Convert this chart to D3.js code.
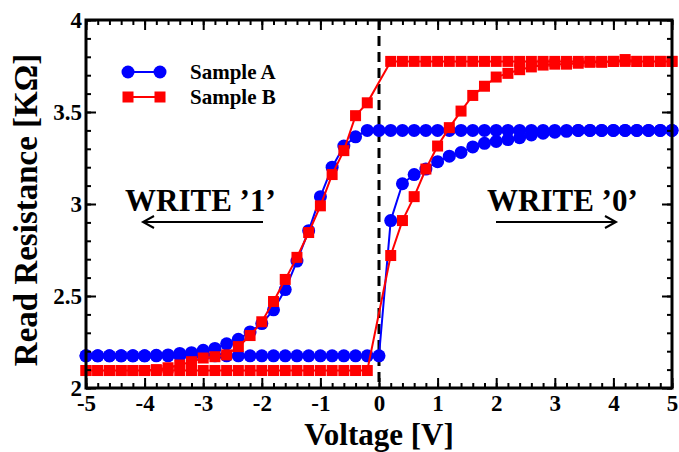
<!DOCTYPE html>
<html>
<head>
<meta charset="utf-8">
<script src="https://cdn.jsdelivr.net/npm/d3@7"></script>
<style>
    body { margin: 0; background: #fff; }
    svg { display: block; }
    text { font-family: "Liberation Serif", "Times New Roman", serif; font-weight: bold; }
</style>
</head>
<body>
<svg id="chart" width="679" height="452"></svg>
<script>
// sweep voltages (V), shared by both samples
const volts = [-5, -4.8, -4.6, -4.4, -4.2, -4, -3.8, -3.6, -3.4, -3.2, -3, -2.8, -2.6, -2.4, -2.2,
    -2, -1.8, -1.6, -1.4, -1.2, -1, -0.8, -0.6, -0.4, -0.2, 0, 0.2, 0.4, 0.6, 0.8, 1, 1.2, 1.4,
    1.6, 1.8, 2, 2.2, 2.4, 2.6, 2.8, 3, 3.2, 3.4, 3.6, 3.8, 4, 4.2, 4.4, 4.6, 4.8, 5];

// Sample A: forward sweep (-5 -> 5) and reverse sweep (5 -> -5), listed by ascending voltage
const sampleAForward = [2.175, 2.175, 2.175, 2.175, 2.175, 2.175, 2.175, 2.175, 2.175, 2.175,
    2.175, 2.175, 2.175, 2.175, 2.175, 2.175, 2.175, 2.175, 2.175, 2.175, 2.175, 2.175, 2.175,
    2.175, 2.175, 2.175, 2.91, 3.11, 3.16, 3.19, 3.23, 3.26, 3.28, 3.31, 3.33, 3.34, 3.35, 3.36,
    3.375, 3.385, 3.39, 3.395, 3.40, 3.40, 3.40, 3.40, 3.40, 3.40, 3.40, 3.40, 3.40];
const sampleAReverse = [2.175, 2.175, 2.175, 2.175, 2.175, 2.175, 2.178, 2.18, 2.188, 2.192,
    2.205, 2.215, 2.24, 2.265, 2.305, 2.35, 2.425, 2.535, 2.69, 2.855, 3.04, 3.20, 3.315, 3.365,
    3.40, 3.40, 3.40, 3.40, 3.40, 3.40, 3.40, 3.40, 3.40, 3.40, 3.40, 3.40, 3.40, 3.40, 3.40,
    3.40, 3.40, 3.40, 3.40, 3.40, 3.40, 3.40, 3.40, 3.40, 3.40, 3.40, 3.40];

// Sample B has no reading at 0 V
const sampleBForward = [2.095, 2.095, 2.095, 2.095, 2.095, 2.095, 2.095, 2.095, 2.095, 2.095,
    2.095, 2.095, 2.095, 2.095, 2.095, 2.095, 2.095, 2.095, 2.095, 2.095, 2.095, 2.095, 2.095,
    2.095, 2.095, null, 2.72, 2.91, 3.04, 3.19, 3.315, 3.415, 3.505, 3.59, 3.64, 3.69, 3.71,
    3.73, 3.745, 3.755, 3.76, 3.76, 3.765, 3.77, 3.77, 3.775, 3.785, 3.775, 3.775, 3.775, 3.775];
const sampleBReverse = [2.095, 2.095, 2.095, 2.095, 2.095, 2.095, 2.10, 2.11, 2.125, 2.143,
    2.163, 2.17, 2.18, 2.225, 2.285, 2.36, 2.47, 2.59, 2.71, 2.845, 2.99, 3.16, 3.29, 3.48, 3.55,
    null, 3.775, 3.775, 3.775, 3.775, 3.775, 3.775, 3.775, 3.775, 3.775, 3.775, 3.775, 3.775,
    3.775, 3.775, 3.775, 3.775, 3.775, 3.775, 3.775, 3.775, 3.775, 3.775, 3.775, 3.775, 3.775];

const xTicks = [-5, -4, -3, -2, -1, 0, 1, 2, 3, 4, 5];
const xTickLabels = ["-5", "-4", "-3", "-2", "-1", "0", "1", "2", "3", "4", "5"];
const yTicks = [2, 2.5, 3, 3.5, 4];
const yTickLabels = ["2", "2.5", "3", "3.5", "4"];

const margin = {top: 20, right: 7, bottom: 64, left: 86};
const width = 679, height = 452;

const svg = d3.select("#chart");

const x = d3.scaleLinear().domain([-5, 5]).range([margin.left, width - margin.right]);
const y = d3.scaleLinear().domain([2, 4]).range([height - margin.bottom, margin.top]);

const x0 = x.range()[0], x1 = x.range()[1];
const y0 = y.range()[0], y1 = y.range()[1];

// one loop per sample: forward sweep going up, then reverse sweep coming back down
function loop(forward, reverse) {
    const up = volts.map((v, i) => [v, forward[i]]);
    const down = volts.map((v, i) => [v, reverse[i]]).reverse();
    return up.concat(down).filter((d) => d[1] !== null);
}

const line = d3.line().x((d) => x(d[0])).y((d) => y(d[1]));

// zero volt marker
svg.append("line")
    .attr("x1", x(0)).attr("x2", x(0))
    .attr("y1", y1).attr("y2", y0)
    .attr("stroke", "#000")
    .attr("stroke-width", 3)
    .attr("stroke-dasharray", "10,6");

const seriesA = loop(sampleAForward, sampleAReverse);
const seriesB = loop(sampleBForward, sampleBReverse);

svg.append("path")
    .attr("d", line(seriesA))
    .attr("fill", "none")
    .attr("stroke", "#0000ff")
    .attr("stroke-width", 2);

svg.append("g").selectAll("circle")
    .data(seriesA)
    .join("circle")
    .attr("cx", (d) => x(d[0]))
    .attr("cy", (d) => y(d[1]))
    .attr("r", 6.5)
    .attr("fill", "#0000ff");

svg.append("path")
    .attr("d", line(seriesB))
    .attr("fill", "none")
    .attr("stroke", "#ff0000")
    .attr("stroke-width", 2);

const sq = 11;
svg.append("g").selectAll("rect")
    .data(seriesB)
    .join("rect")
    .attr("x", (d) => x(d[0]) - sq / 2)
    .attr("y", (d) => y(d[1]) - sq / 2)
    .attr("width", sq)
    .attr("height", sq)
    .attr("fill", "#ff0000");

// axes, ticks pointing inward on all four sides
function styleAxis(g) {
    g.selectAll("path.domain").remove();
    g.selectAll(".tick line").attr("stroke", "#000").attr("stroke-width", 2);
    g.selectAll(".tick text")
        .attr("fill", "#000")
        .style("font-size", "23px")
        .style("font-family", "'Liberation Serif', serif")
        .style("font-weight", "bold");
}

const xMinor = d3.range(-50, 51, 2).map((d) => d / 10);
const yMinor = d3.range(20, 41, 1).map((d) => d / 10);

svg.append("g")
    .attr("transform", `translate(0,${y0})`)
    .call(d3.axisBottom(x).tickValues(xMinor).tickSize(-5).tickFormat(""))
    .call(styleAxis);
svg.append("g")
    .attr("transform", `translate(0,${y0})`)
    .call(d3.axisBottom(x).tickValues(xTicks).tickSize(-10).tickPadding(7)
        .tickFormat((d, i) => xTickLabels[i]))
    .call(styleAxis);
svg.append("g")
    .attr("transform", `translate(0,${y1})`)
    .call(d3.axisTop(x).tickValues(xMinor).tickSize(-5).tickFormat(""))
    .call(styleAxis);
svg.append("g")
    .attr("transform", `translate(0,${y1})`)
    .call(d3.axisTop(x).tickValues(xTicks).tickSize(-10).tickFormat(""))
    .call(styleAxis);

svg.append("g")
    .attr("transform", `translate(${x0},0)`)
    .call(d3.axisLeft(y).tickValues(yMinor).tickSize(-5).tickFormat(""))
    .call(styleAxis);
svg.append("g")
    .attr("transform", `translate(${x0},0)`)
    .call(d3.axisLeft(y).tickValues(yTicks).tickSize(-10).tickPadding(4)
        .tickFormat((d, i) => yTickLabels[i]))
    .call(styleAxis);
svg.append("g")
    .attr("transform", `translate(${x1},0)`)
    .call(d3.axisRight(y).tickValues(yMinor).tickSize(-5).tickFormat(""))
    .call(styleAxis);
svg.append("g")
    .attr("transform", `translate(${x1},0)`)
    .call(d3.axisRight(y).tickValues(yTicks).tickSize(-10).tickFormat(""))
    .call(styleAxis);

// frame
svg.append("rect")
    .attr("x", x0).attr("y", y1)
    .attr("width", x1 - x0).attr("height", y0 - y1)
    .attr("fill", "none")
    .attr("stroke", "#000")
    .attr("stroke-width", 3);

// axis titles
svg.append("text")
    .attr("x", (x0 + x1) / 2)
    .attr("y", 445)
    .attr("text-anchor", "middle")
    .style("font-size", "31px")
    .text("Voltage [V]");

svg.append("text")
    .attr("transform", `translate(37,${(y0 + y1) / 2 + 6}) rotate(-90)`)
    .attr("text-anchor", "middle")
    .style("font-size", "33px")
    .text("Read Resistance [KΩ]");

// legend
const legend = svg.append("g");
const legendRows = [
    {label: "Sample A", color: "#0000ff", shape: "circle", y: 72},
    {label: "Sample B", color: "#ff0000", shape: "square", y: 97}
];
legendRows.forEach((row) => {
    legend.append("line")
        .attr("x1", 128).attr("x2", 160)
        .attr("y1", row.y).attr("y2", row.y)
        .attr("stroke", row.color)
        .attr("stroke-width", 2);
    [128, 160].forEach((cx) => {
        if (row.shape === "circle") {
            legend.append("circle").attr("cx", cx).attr("cy", row.y).attr("r", 6.5).attr("fill", row.color);
        } else {
            legend.append("rect").attr("x", cx - sq / 2).attr("y", row.y - sq / 2)
                .attr("width", sq).attr("height", sq).attr("fill", row.color);
        }
    });
    legend.append("text")
        .attr("x", 190)
        .attr("y", row.y + 7)
        .style("font-size", "21px")
        .text(row.label);
});

// write annotations with arrows
function arrow(xa, xb, ya) {
    // arrowhead drawn at xb
    const dir = xb > xa ? -1 : 1;
    svg.append("path")
        .attr("d", `M${xa},${ya}L${xb},${ya}M${xb + dir * 11},${ya - 6}L${xb},${ya}L${xb + dir * 11},${ya + 6}`)
        .attr("fill", "none")
        .attr("stroke", "#000")
        .attr("stroke-width", 2);
}

svg.append("text")
    .attr("x", 125).attr("y", 211)
    .style("font-size", "31px")
    .text("WRITE ’1’");
arrow(263, 143, 222);

svg.append("text")
    .attr("x", 487).attr("y", 211)
    .style("font-size", "31px")
    .text("WRITE ’0’");
arrow(496, 616, 222);
</script>
</body>
</html>
